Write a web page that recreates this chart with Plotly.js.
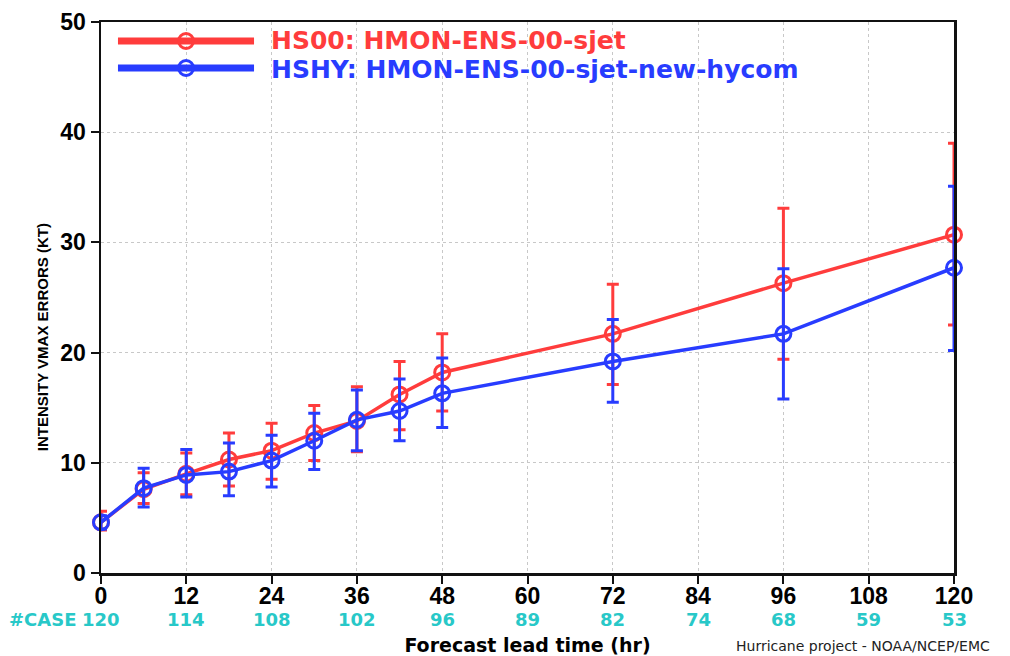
<!DOCTYPE html>
<html>
<head>
<meta charset="utf-8">
<script src="https://cdn.plot.ly/plotly-3.0.1.min.js"></script>
<style>html,body{margin:0;padding:0;background:#fff;}#chart{width:1010px;height:656px;}</style>
</head>
<body>
<div id="chart"></div>
<script>
// ---- data ----
const leadTimes = [0, 6, 12, 18, 24, 30, 36, 42, 48, 72, 96, 120];
const hs00Mean  = [4.6, 7.6, 9.0, 10.3, 11.1, 12.7, 13.8, 16.2, 18.2, 21.7, 26.3, 30.7];
const hs00Upper = [5.6, 9.1, 10.9, 12.7, 13.6, 15.2, 16.9, 19.2, 21.7, 26.2, 33.1, 39.0];
const hs00Lower = [3.9, 6.3, 7.1, 7.9, 8.5, 10.2, 11.0, 13.0, 14.7, 17.1, 19.4, 22.5];
const hshyMean  = [4.6, 7.7, 8.9, 9.2, 10.2, 12.0, 13.9, 14.7, 16.3, 19.2, 21.7, 27.7];
const hshyUpper = [5.2, 9.5, 11.2, 11.8, 12.5, 14.5, 16.6, 17.6, 19.5, 23.0, 27.6, 35.1];
const hshyLower = [4.0, 6.0, 6.9, 7.0, 7.8, 9.4, 11.1, 12.0, 13.2, 15.5, 15.8, 20.2];
const xTicks    = [0, 12, 24, 36, 48, 60, 72, 84, 96, 108, 120];
const caseCounts = ["120", "114", "108", "102", "96", "89", "82", "74", "68", "59", "53"];
const seriesNames = ["HS00: HMON-ENS-00-sjet", "HSHY: HMON-ENS-00-sjet-new-hycom"];

const RED = "rgb(255,60,60)";
const BLUE = "rgb(40,60,255)";
const CYAN = "rgb(40,200,200)";

function makeTrace(mean, upper, lower, color, name) {
  return {
    x: leadTimes, y: mean, name: name, type: "scatter", mode: "lines+markers",
    showlegend: false, cliponaxis: false,
    line: {color: color, width: 3.5},
    marker: {symbol: "circle-open", size: 15, color: color, line: {width: 3, color: color}},
    error_y: {
      type: "data", symmetric: false,
      array: upper.map((u, i) => u - mean[i]),
      arrayminus: lower.map((l, i) => mean[i] - l),
      color: color, thickness: 3, width: 6
    }
  };
}

const traces = [
  makeTrace(hs00Mean, hs00Upper, hs00Lower, RED, seriesNames[0]),
  makeTrace(hshyMean, hshyUpper, hshyLower, BLUE, seriesNames[1])
];

const axisCommon = {
  showline: true, linewidth: 2.5, linecolor: "#111", mirror: true,
  ticks: "outside", ticklen: 8, tickwidth: 2, tickcolor: "#111",
  showgrid: true, gridcolor: "#c8c8c8", griddash: "dot", gridwidth: 1,
  zeroline: false,
  tickfont: {family: "Liberation Sans", size: 23, color: "#000", weight: "bold"}
};

const annotations = [];
// case counts row
xTicks.forEach((t, i) => {
  annotations.push({
    x: t, xref: "x", y: -0.0835, yref: "paper", yanchor: "middle", xanchor: "center",
    text: caseCounts[i], showarrow: false,
    font: {family: "DejaVu Sans", size: 18, color: CYAN, weight: "bold"}
  });
});
annotations.push({
  x: -0.027, xref: "paper", y: -0.0835, yref: "paper", xanchor: "right", yanchor: "middle",
  text: "#CASE", showarrow: false,
  font: {family: "DejaVu Sans", size: 18, color: CYAN, weight: "bold"}
});
// y title
annotations.push({
  x: -0.0692, xref: "paper", y: 0.428, yref: "paper", xanchor: "center", yanchor: "middle",
  text: "INTENSITY VMAX ERRORS (KT)", textangle: -90, showarrow: false,
  font: {family: "Liberation Sans", size: 15, color: "#000", weight: "bold"}
});
// credit
annotations.push({
  x: 1.0446, xref: "paper", y: -0.1325, yref: "paper", xanchor: "right", yanchor: "middle",
  text: "Hurricane project - NOAA/NCEP/EMC", showarrow: false,
  font: {family: "DejaVu Sans", size: 14, color: "#222"}
});
// legend (drawn in paper space)
const legendY = [0.9655, 0.9165];
const legendTextY = [0.9673, 0.9147];
const legendColors = [RED, BLUE];
seriesNames.forEach((n, i) => {
  annotations.push({
    x: 0.1981, xref: "paper", y: legendTextY[i], yref: "paper", xanchor: "left", yanchor: "middle",
    text: n, showarrow: false, borderpad: 0,
    font: {family: "DejaVu Sans", size: 25, color: legendColors[i], weight: "bold"}
  });
});

const shapes = [];
seriesNames.forEach((n, i) => {
  shapes.push({
    type: "line", xref: "paper", yref: "paper",
    x0: 0.0199, x1: 0.1794, y0: legendY[i], y1: legendY[i],
    line: {color: legendColors[i], width: 7}
  });
  shapes.push({
    type: "circle", xref: "paper", yref: "paper",
    xsizemode: "pixel", ysizemode: "pixel",
    xanchor: 0.0997, yanchor: legendY[i],
    x0: -7.5, x1: 7.5, y0: -7.5, y1: 7.5,
    line: {color: legendColors[i], width: 3}
  });
});

const layout = {
  width: 1010, height: 656,
  margin: {l: 101, r: 56, t: 22, b: 83},
  paper_bgcolor: "#fff", plot_bgcolor: "#fff",
  showlegend: false,
  xaxis: Object.assign({}, axisCommon, {
    range: [0, 120], tickvals: xTicks, ticklabelstandoff: -7,
    title: {text: "Forecast lead time (hr)", standoff: 31,
            font: {family: "DejaVu Sans", size: 19, color: "#000", weight: "bold"}}
  }),
  yaxis: Object.assign({}, axisCommon, {
    range: [0, 50], tickvals: [0, 10, 20, 30, 40, 50]
  }),
  annotations: annotations,
  shapes: shapes
};

Plotly.newPlot("chart", traces, layout, {displayModeBar: false, staticPlot: true});
</script>
</body>
</html>
